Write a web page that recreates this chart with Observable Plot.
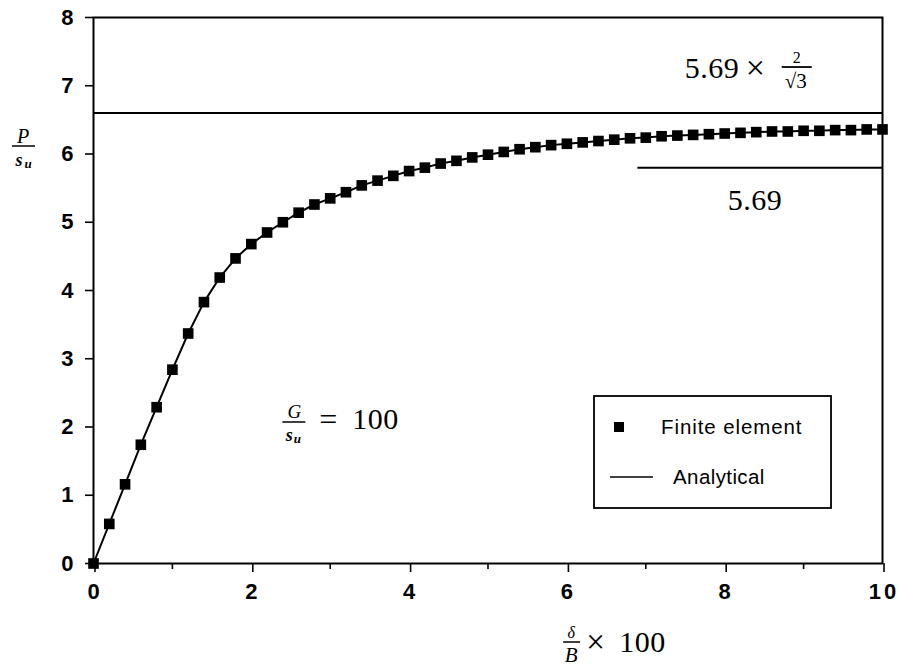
<!DOCTYPE html>
<html>
<head>
<meta charset="utf-8">
<script src="https://cdn.jsdelivr.net/npm/d3@7"></script>
<script src="https://cdn.jsdelivr.net/npm/@observablehq/plot@0.6"></script>
<style>
  html, body { margin: 0; padding: 0; background: #fff; }
  #chart svg { display: block; }
  #chart g[aria-label="x-axis tick label"] text { letter-spacing: 3px; }
</style>
</head>
<body>
<div id="chart"></div>
<script>
// ---- data ----
const strain = [0, 0.2, 0.4, 0.6, 0.8, 1.0, 1.2, 1.4, 1.6, 1.8,
  2.0, 2.2, 2.4, 2.6, 2.8, 3.0, 3.2, 3.4, 3.6, 3.8,
  4.0, 4.2, 4.4, 4.6, 4.8, 5.0, 5.2, 5.4, 5.6, 5.8,
  6.0, 6.2, 6.4, 6.6, 6.8, 7.0, 7.2, 7.4, 7.6, 7.8,
  8.0, 8.2, 8.4, 8.6, 8.8, 9.0, 9.2, 9.4, 9.6, 9.8, 10.0];
const load = [0, 0.58, 1.16, 1.74, 2.29, 2.84, 3.37, 3.83, 4.19, 4.47,
  4.68, 4.85, 5.00, 5.14, 5.26, 5.35, 5.44, 5.54, 5.61, 5.68,
  5.75, 5.80, 5.86, 5.90, 5.95, 5.99, 6.03, 6.07, 6.10, 6.13,
  6.15, 6.17, 6.19, 6.21, 6.23, 6.24, 6.26, 6.27, 6.28, 6.29,
  6.30, 6.31, 6.32, 6.33, 6.33, 6.34, 6.34, 6.35, 6.35, 6.36, 6.36];
const xMajorTicks = [0, 2, 4, 6, 8, 10];
const xMinorTicks = [1, 3, 5, 7, 9];
const yTicks = [0, 1, 2, 3, 4, 5, 6, 7, 8];
const upperLimit = 6.60;          // 5.69 x 2/sqrt(3) line as drawn
const lowerLimit = 5.80;          // 5.69 line as drawn
const lowerLimitStart = 6.9;
const legendLabels = ["Finite element", "Analytical"];

const data = strain.map((x, i) => ({x, y: load[i]}));

// ---- helpers for math-style annotations ----
const SERIF = "'Liberation Serif', 'DejaVu Serif', serif";
const SANS = "'Liberation Sans', Arial, sans-serif";
function txt(g, x, y, s, o = {}) {
  const t = g.append("text").attr("x", x).attr("y", y)
    .attr("font-family", o.family || SERIF)
    .attr("font-size", o.size || 28)
    .attr("font-style", o.italic ? "italic" : "normal")
    .attr("font-weight", o.weight || "normal")
    .attr("text-anchor", o.anchor || "start")
    .attr("fill", "black")
    .text(s);
  if (o.spacing) t.attr("letter-spacing", o.spacing);
  return t;
}
function bar(g, x1, x2, y, w = 1.4) {
  g.append("line").attr("x1", x1).attr("x2", x2).attr("y1", y).attr("y2", y)
    .attr("stroke", "black").attr("stroke-width", w);
}

const annoUpper = {x: 7.50, y: 7.106};
const annoLower = {x: 8.39, y: 5.17};
const annoG = {x: 2.40, y: 2.066};
const legendPos = {x: 6.35, y: 2.447};
const xLabelX = 6.06;

function annotations(index, scales, values, dim) {
  const sx = scales.x, sy = scales.y;
  const root = d3.create("svg:g");

  // upper annotation: 5.69 x 2/sqrt3
  {
    const g = root.append("g").attr("transform", `translate(${sx(annoUpper.x)},${sy(annoUpper.y)})`);
    txt(g, 0, 0, "5.69", {size: 30, spacing: 0.5});
    txt(g, 61, 1, "×", {size: 34});
    txt(g, 112, -15, "2", {size: 16, anchor: "middle"});
    bar(g, 97, 127, -11, 1.8);
    txt(g, 111, 10, "√3", {size: 21, anchor: "middle"});
  }
  // lower annotation
  {
    const g = root.append("g").attr("transform", `translate(${sx(annoLower.x)},${sy(annoLower.y)})`);
    txt(g, 0, 0, "5.69", {size: 30, anchor: "middle", spacing: 0.5});
  }
  // G / s_u = 100
  {
    const g = root.append("g").attr("transform", `translate(${sx(annoG.x)},${sy(annoG.y)})`);
    txt(g, 12, -4, "G", {size: 19, italic: true, anchor: "middle"});
    bar(g, 0, 23, 0, 1.5);
    txt(g, 7, 19, "s", {size: 18, italic: true, anchor: "middle", weight: "bold"});
    txt(g, 15, 21, "u", {size: 13, italic: true, anchor: "middle", weight: "bold"});
    txt(g, 37, 8, "=", {size: 32});
    txt(g, 70, 7, "100", {size: 30, spacing: 0.5});
  }
  // y-axis label P / s_u
  {
    const g = root.append("g").attr("transform", `translate(${sx(0) - 70},${sy(6.11)})`);
    txt(g, 0, -3, "P", {size: 20, italic: true, anchor: "middle"});
    bar(g, -11, 12, 0, 1.5);
    txt(g, -4, 20, "s", {size: 18, italic: true, anchor: "middle", weight: "bold"});
    txt(g, 5, 22, "u", {size: 13, italic: true, anchor: "middle", weight: "bold"});
  }
  // x-axis label delta / B x 100
  {
    const g = root.append("g").attr("transform", `translate(${sx(xLabelX)},${sy(0) + 79})`);
    txt(g, 0, -4, "δ", {size: 16, italic: true, anchor: "middle"});
    bar(g, -8, 9, 0, 1.5);
    txt(g, 0, 20, "B", {size: 21, italic: true, anchor: "middle"});
    txt(g, 15, 11, "×", {size: 33});
    txt(g, 48, 10, "100", {size: 30, spacing: 0.5});
  }
  // legend box
  {
    const g = root.append("g").attr("transform", `translate(${sx(legendPos.x)},${sy(legendPos.y)})`);
    g.append("rect").attr("x", 0).attr("y", 0).attr("width", 237).attr("height", 112)
      .attr("fill", "white").attr("stroke", "black").attr("stroke-width", 1.8);
    g.append("rect").attr("x", 20).attr("y", 26).attr("width", 10).attr("height", 10).attr("fill", "black");
    txt(g, 67, 38, legendLabels[0], {family: SANS, size: 20.5, spacing: 0.9});
    bar(g, 16, 59, 81, 1.6);
    txt(g, 79, 88, legendLabels[1], {family: SANS, size: 20.5, spacing: 0.4});
  }
  return root.node();
}

const chart = Plot.plot({
  width: 898,
  height: 671,
  marginLeft: 93,
  marginRight: 16,
  marginTop: 17,
  marginBottom: 108,
  x: {domain: [0, 10]},
  y: {domain: [0, 8]},
  style: {
    fontFamily: SANS,
    fontSize: "22px",
    fontWeight: "bold",
    background: "white",
    color: "black",
    overflow: "visible"
  },
  marks: [
    Plot.frame({stroke: "black", strokeWidth: 2}),
    Plot.axisX(xMajorTicks, {tickSize: 9, tickPadding: 11, fontSize: 22, fontWeight: "bold", tickFormat: "d", strokeWidth: 1.6, textStroke: "none", dx: 1.5, label: null}),
    Plot.axisX(xMinorTicks, {tickSize: 6, text: null, strokeWidth: 1.6, label: null}),
    Plot.axisY(yTicks, {tickSize: 8, tickPadding: 12, fontSize: 22, fontWeight: "bold", tickFormat: "d", strokeWidth: 1.6, label: null}),
    Plot.ruleY([upperLimit], {x1: 0, x2: 10, stroke: "black", strokeWidth: 2}),
    Plot.ruleY([lowerLimit], {x1: lowerLimitStart, x2: 10, stroke: "black", strokeWidth: 2}),
    Plot.line(data, {x: "x", y: "y", stroke: "black", strokeWidth: 2}),
    Plot.dot(data, {x: "x", y: "y", symbol: "square", r: 6, fill: "black", stroke: "none"}),
    annotations
  ]
});
document.getElementById("chart").appendChild(chart);
</script>
</body>
</html>
